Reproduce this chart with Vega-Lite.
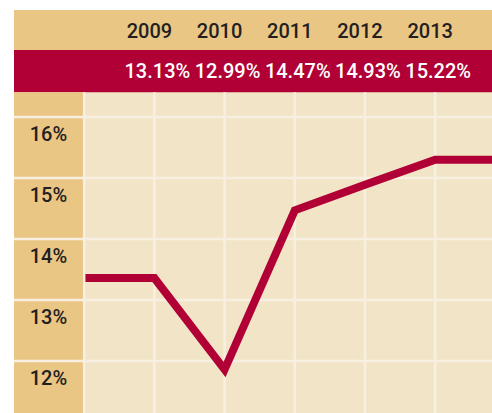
{
  "$schema": "https://vega.github.io/schema/vega-lite/v6.json",
  "width": 478,
  "height": 403,
  "autosize": {"type": "none"},
  "padding": {"left": 14, "top": 10, "right": 0, "bottom": 0},
  "background": "#ffffff",
  "config": {"view": {"stroke": null, "fill": "#f2e4c6"}},
  "datasets": {
    "rate": [
      {"year": 2008, "value": 13.36},
      {"year": 2009, "value": 13.36},
      {"year": 2010, "value": 11.86},
      {"year": 2011, "value": 14.47},
      {"year": 2012, "value": 14.89},
      {"year": 2013, "value": 15.30},
      {"year": 2014, "value": 15.30}
    ],
    "header": [
      {"year": 2009, "label": "2009", "pct": "13.13%"},
      {"year": 2010, "label": "2010", "pct": "12.99%"},
      {"year": 2011, "label": "2011", "pct": "14.47%"},
      {"year": 2012, "label": "2012", "pct": "14.93%"},
      {"year": 2013, "label": "2013", "pct": "15.22%"}
    ],
    "grid_x": [
      {"year": 2009}, {"year": 2010}, {"year": 2011}, {"year": 2012}, {"year": 2013}
    ],
    "grid_y": [
      {"value": 12, "label": "12%"},
      {"value": 13, "label": "13%"},
      {"value": 14, "label": "14%"},
      {"value": 15, "label": "15%"},
      {"value": 16, "label": "16%"}
    ]
  },
  "layer": [
    {
      "data": {"values": [{}]},
      "mark": {"type": "rect", "color": "#eac685"},
      "encoding": {
        "x": {"datum": 2007, "type": "quantitative", "scale": {"domain": [2007, 2013.81], "nice": false, "zero": false}, "axis": null},
        "x2": {"datum": 2013.81},
        "y": {"datum": 17.754, "type": "quantitative", "scale": {"domain": [11.148, 17.754], "nice": false, "zero": false}, "axis": null},
        "y2": {"datum": 17.098}
      }
    },
    {
      "data": {"values": [{}]},
      "mark": {"type": "rect", "color": "#b10035"},
      "encoding": {
        "x": {"datum": 2007, "type": "quantitative"},
        "x2": {"datum": 2013.81},
        "y": {"datum": 17.098, "type": "quantitative"},
        "y2": {"datum": 16.405}
      }
    },
    {
      "data": {"values": [{}]},
      "mark": {"type": "rect", "color": "#eac685"},
      "encoding": {
        "x": {"datum": 2007, "type": "quantitative"},
        "x2": {"datum": 2008},
        "y": {"datum": 16.405, "type": "quantitative"},
        "y2": {"datum": 11.148}
      }
    },
    {
      "data": {"name": "grid_x"},
      "mark": {"type": "rule", "color": "#f7efe2", "strokeWidth": 2.5},
      "encoding": {
        "x": {"field": "year", "type": "quantitative"},
        "y": {"datum": 16.405, "type": "quantitative"},
        "y2": {"datum": 11.148}
      }
    },
    {
      "data": {"name": "grid_y"},
      "mark": {"type": "rule", "color": "#f7efe2", "strokeWidth": 2.5},
      "encoding": {
        "y": {"field": "value", "type": "quantitative"},
        "x": {"datum": 2007, "type": "quantitative"},
        "x2": {"datum": 2013.81}
      }
    },
    {
      "data": {"name": "rate"},
      "mark": {"type": "line", "color": "#b10035", "strokeWidth": 8, "clip": true, "strokeJoin": "miter"},
      "encoding": {
        "x": {"field": "year", "type": "quantitative"},
        "y": {"field": "value", "type": "quantitative"}
      }
    },
    {
      "data": {"values": [{"year": 2008}]},
      "mark": {"type": "rule", "color": "#f7efe2", "strokeWidth": 2.5},
      "encoding": {
        "x": {"field": "year", "type": "quantitative"},
        "y": {"datum": 16.405, "type": "quantitative"},
        "y2": {"datum": 11.148}
      }
    },
    {
      "data": {"name": "grid_y"},
      "mark": {"type": "text", "font": "Roboto", "fontSize": 20, "fontWeight": 500, "color": "#231f20", "align": "center", "baseline": "alphabetic", "dy": 24},
      "encoding": {
        "y": {"field": "value", "type": "quantitative"},
        "x": {"datum": 2007.49, "type": "quantitative"},
        "text": {"field": "label"}
      }
    },
    {
      "data": {"name": "header"},
      "mark": {"type": "text", "font": "Roboto", "fontSize": 20, "fontWeight": 500, "color": "#231f20", "align": "center", "baseline": "middle", "dx": -5},
      "encoding": {
        "x": {"field": "year", "type": "quantitative"},
        "y": {"datum": 17.393, "type": "quantitative"},
        "text": {"field": "label"}
      }
    },
    {
      "data": {"name": "header"},
      "mark": {"type": "text", "font": "Roboto", "fontSize": 20, "fontWeight": 500, "color": "#ffffff", "align": "center", "baseline": "middle", "dx": 3},
      "encoding": {
        "x": {"field": "year", "type": "quantitative"},
        "y": {"datum": 16.743, "type": "quantitative"},
        "text": {"field": "pct"}
      }
    }
  ]
}
